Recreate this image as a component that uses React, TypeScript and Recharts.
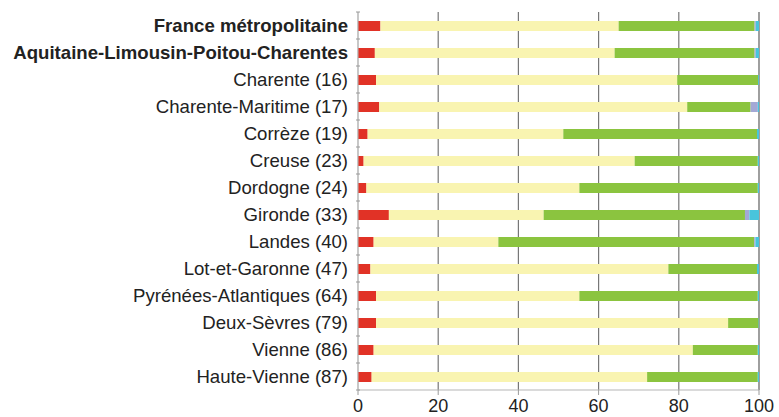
import { BarChart, Bar, XAxis, YAxis, CartesianGrid } from "recharts";

const categories = [
  "France métropolitaine",
  "Aquitaine-Limousin-Poitou-Charentes",
  "Charente (16)",
  "Charente-Maritime (17)",
  "Corrèze (19)",
  "Creuse (23)",
  "Dordogne (24)",
  "Gironde (33)",
  "Landes (40)",
  "Lot-et-Garonne (47)",
  "Pyrénées-Atlantiques (64)",
  "Deux-Sèvres (79)",
  "Vienne (86)",
  "Haute-Vienne (87)",
];

const boldRows = ["France métropolitaine", "Aquitaine-Limousin-Poitou-Charentes"];

const part1 = [5.6, 4.2, 4.5, 5.3, 2.4, 1.4, 2.1, 7.7, 3.9, 3.1, 4.5, 4.5, 3.9, 3.4];
const part2 = [59.4, 59.8, 75.1, 76.8, 48.8, 67.6, 53.1, 38.6, 31.1, 74.3, 50.7, 87.8, 79.6, 68.7];
const part3 = [33.9, 34.9, 20.2, 15.8, 48.3, 30.7, 44.5, 50.2, 63.8, 22.1, 44.5, 7.6, 16.2, 27.6];
const part4 = [0.3, 0.3, 0, 1.8, 0, 0, 0, 1.1, 0.3, 0, 0, 0, 0, 0];
const part5 = [0.8, 0.8, 0.2, 0.3, 0.5, 0.3, 0.3, 2.4, 0.9, 0.5, 0.3, 0.1, 0.3, 0.3];

const xTicks = [0, 20, 40, 60, 80, 100];

const data = categories.map((name, i) => ({
  name,
  part1: part1[i],
  part2: part2[i],
  part3: part3[i],
  part4: part4[i],
  part5: part5[i],
}));

const FONT = "'Liberation Sans', Arial, Helvetica, sans-serif";
const ROW = 27;

function YTick(props: any) {
  const { x, y, payload, index } = props;
  const bold = boldRows.includes(payload.value);
  return (
    <g>
      <line x1={x + 6} x2={x + 10} y1={y - ROW / 2} y2={y - ROW / 2} stroke="#9a9a9a" />
      {index === categories.length - 1 && (
        <line x1={x + 6} x2={x + 10} y1={y + ROW / 2} y2={y + ROW / 2} stroke="#9a9a9a" />
      )}
      <text
        x={x - 2}
        y={y}
        dy={6}
        textAnchor="end"
        fill="#222"
        fontSize={18.6}
        fontWeight={bold ? "bold" : "normal"}
        fontFamily={FONT}
      >
        {payload.value}
      </text>
    </g>
  );
}

function XTick(props: any) {
  const { x, y, payload } = props;
  return (
    <text x={x} y={y} dy={15} textAnchor="middle" fill="#222" fontSize={18} fontFamily={FONT}>
      {payload.value}
    </text>
  );
}

function GridLine(props: any) {
  const { x1, x2, y1, y2, index } = props;
  const light = index === 0 || index === xTicks.length - 1;
  return (
    <line
      key={`g-${index}`}
      x1={x1}
      x2={x2}
      y1={y1}
      y2={y2}
      stroke={light ? "#b5b5b5" : "#777"}
      strokeWidth={light ? 1 : 1.2}
    />
  );
}

export default function App() {
  return (
    <div style={{ position: "absolute", left: 0, top: 0, background: "#fff" }}>
      <BarChart
        width={779}
        height={417}
        data={data}
        layout="vertical"
        margin={{ top: 12, right: 20, bottom: 0, left: 0 }}
        barSize={10}
      >
        <CartesianGrid horizontal={false} vertical={GridLine} />
        <XAxis
          type="number"
          domain={[0, 100]}
          ticks={xTicks}
          interval={0}
          height={27}
          axisLine={{ stroke: "#b5b5b5" }}
          tickLine={{ stroke: "#9a9a9a" }}
          tickSize={5}
          tick={<XTick />}
        />
        <YAxis
          type="category"
          dataKey="name"
          width={358}
          interval={0}
          axisLine={{ stroke: "#b5b5b5" }}
          tickLine={false}
          tick={<YTick />}
        />
        <Bar dataKey="part1" stackId="a" fill="#e13226" isAnimationActive={false} />
        <Bar dataKey="part2" stackId="a" fill="#f9f4b1" isAnimationActive={false} />
        <Bar dataKey="part3" stackId="a" fill="#8bc43f" isAnimationActive={false} />
        <Bar dataKey="part4" stackId="a" fill="#a4a8d5" isAnimationActive={false} />
        <Bar dataKey="part5" stackId="a" fill="#48c4dc" isAnimationActive={false} />
      </BarChart>
    </div>
  );
}
